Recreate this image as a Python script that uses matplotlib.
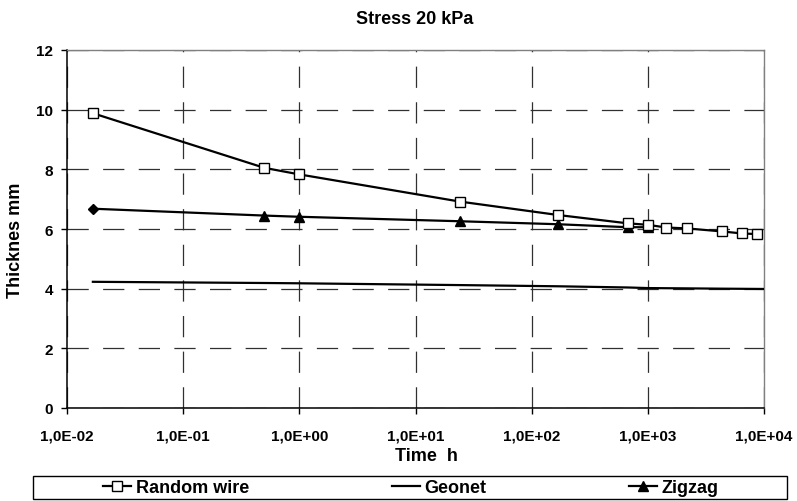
import matplotlib
matplotlib.use("Agg")
import matplotlib.pyplot as plt
from matplotlib.patches import Rectangle
from matplotlib.ticker import FixedLocator, NullLocator, FixedFormatter

# ---- data ----
random_time = [0.0167, 0.5, 1, 24, 168, 672, 1000, 1440, 2160, 4320, 6480, 8760]
random_thick = [9.88, 8.05, 7.83, 6.92, 6.47, 6.19, 6.14, 6.05, 6.02, 5.92, 5.85, 5.83]

geonet_time = [0.0167, 0.5, 1, 24, 168, 672, 1000, 2160, 4320, 10000]
geonet_thick = [4.23, 4.19, 4.18, 4.12, 4.08, 4.04, 4.02, 4.01, 4.00, 3.99]

zigzag_time = [0.0167, 0.5, 1, 24, 168, 672, 1000]
zigzag_thick = [6.68, 6.45, 6.41, 6.26, 6.16, 6.06, 6.06]

x_ticks = [1e-2, 1e-1, 1e0, 1e1, 1e2, 1e3, 1e4]
x_tick_labels = ["1,0E-02", "1,0E-01", "1,0E+00", "1,0E+01", "1,0E+02", "1,0E+03", "1,0E+04"]
y_ticks = [0, 2, 4, 6, 8, 10, 12]

title = "Stress 20 kPa"
x_label = "Time  h"
y_label = "Thicknes mm"
series_names = ["Random wire", "Geonet", "Zigzag"]

# ---- style ----
plt.rcParams['font.family'] = ['Liberation Sans', 'DejaVu Sans']
plt.rcParams['font.weight'] = 'bold'

W, H = 797, 502
fig = plt.figure(figsize=(W / 100, H / 100), dpi=100)
ax = fig.add_axes([67 / W, 1 - 409 / H, (764 - 67) / W, (409 - 51) / H])

ax.set_xscale('log')
ax.set_xlim(1e-2, 1e4)
ax.set_ylim(0, 12)

dash = (0, (17, 11.5))
ax.xaxis.set_major_locator(FixedLocator(x_ticks))
ax.xaxis.set_major_formatter(FixedFormatter(x_tick_labels))
ax.xaxis.set_minor_locator(NullLocator())
ax.set_yticks(y_ticks)
ax.set_yticklabels([str(v) for v in y_ticks])

ax.grid(True, which='major', axis='both', color='#303030', linestyle=dash, linewidth=0.9)
ax.set_axisbelow(True)

ax.tick_params(axis='both', which='major', direction='out', length=4, width=1,
               labelsize=11, color='black')
ax.tick_params(axis='x', pad=10.5)
ax.tick_params(axis='y', pad=6)
for lab in ax.get_xticklabels() + ax.get_yticklabels():
    lab.set_fontweight('bold')

for side in ['left', 'bottom']:
    ax.spines[side].set_color('black')
    ax.spines[side].set_linewidth(1.1)
for side in ['top', 'right']:
    ax.spines[side].set_color('#808080')
    ax.spines[side].set_linewidth(1.0)

h_rw, = ax.plot(random_time, random_thick, color='black', lw=1.6, marker='s', ms=6.5,
                mfc='white', mec='black', mew=1.0, label=series_names[0], zorder=4)
h_ge, = ax.plot(geonet_time, geonet_thick, color='black', lw=1.6, label=series_names[1], zorder=3)
h_zz, = ax.plot(zigzag_time, zigzag_thick, color='black', lw=1.6, marker='^', ms=7.5,
                mfc='black', mec='black', markevery=list(range(1, len(zigzag_time))),
                label=series_names[2], zorder=3)
ax.plot(zigzag_time[:1], zigzag_thick[:1], linestyle='none', marker='D', ms=5.5,
        mfc='black', mec='black', zorder=4)

fig.text(414.5 / W, 1 - 19 / H, title, ha='center', va='center', fontsize=13, fontweight='bold')
fig.text(426 / W, 1 - 457 / H, x_label, ha='center', va='center', fontsize=13, fontweight='bold')
fig.text(16 / W, 1 - 240 / H, y_label, ha='center', va='center', rotation=90,
         fontsize=13, fontweight='bold')

# legend box
fig.patches.append(Rectangle((33 / W, 1 - 500 / H), (787 - 33) / W, (500 - 477) / H,
                             transform=fig.transFigure, fill=False, edgecolor='black',
                             linewidth=1.0))
leg = fig.legend(handles=[h_rw, h_ge, h_zz], labels=series_names, loc='center',
                 bbox_to_anchor=(411 / W, 1 - 488.5 / H), ncol=3, frameon=False,
                 prop={'weight': 'bold', 'size': 13}, numpoints=1,
                 handlelength=1.55, handletextpad=0.25, columnspacing=7.9,
                 borderpad=0, borderaxespad=0)

fig.savefig("out.png", dpi=100)
